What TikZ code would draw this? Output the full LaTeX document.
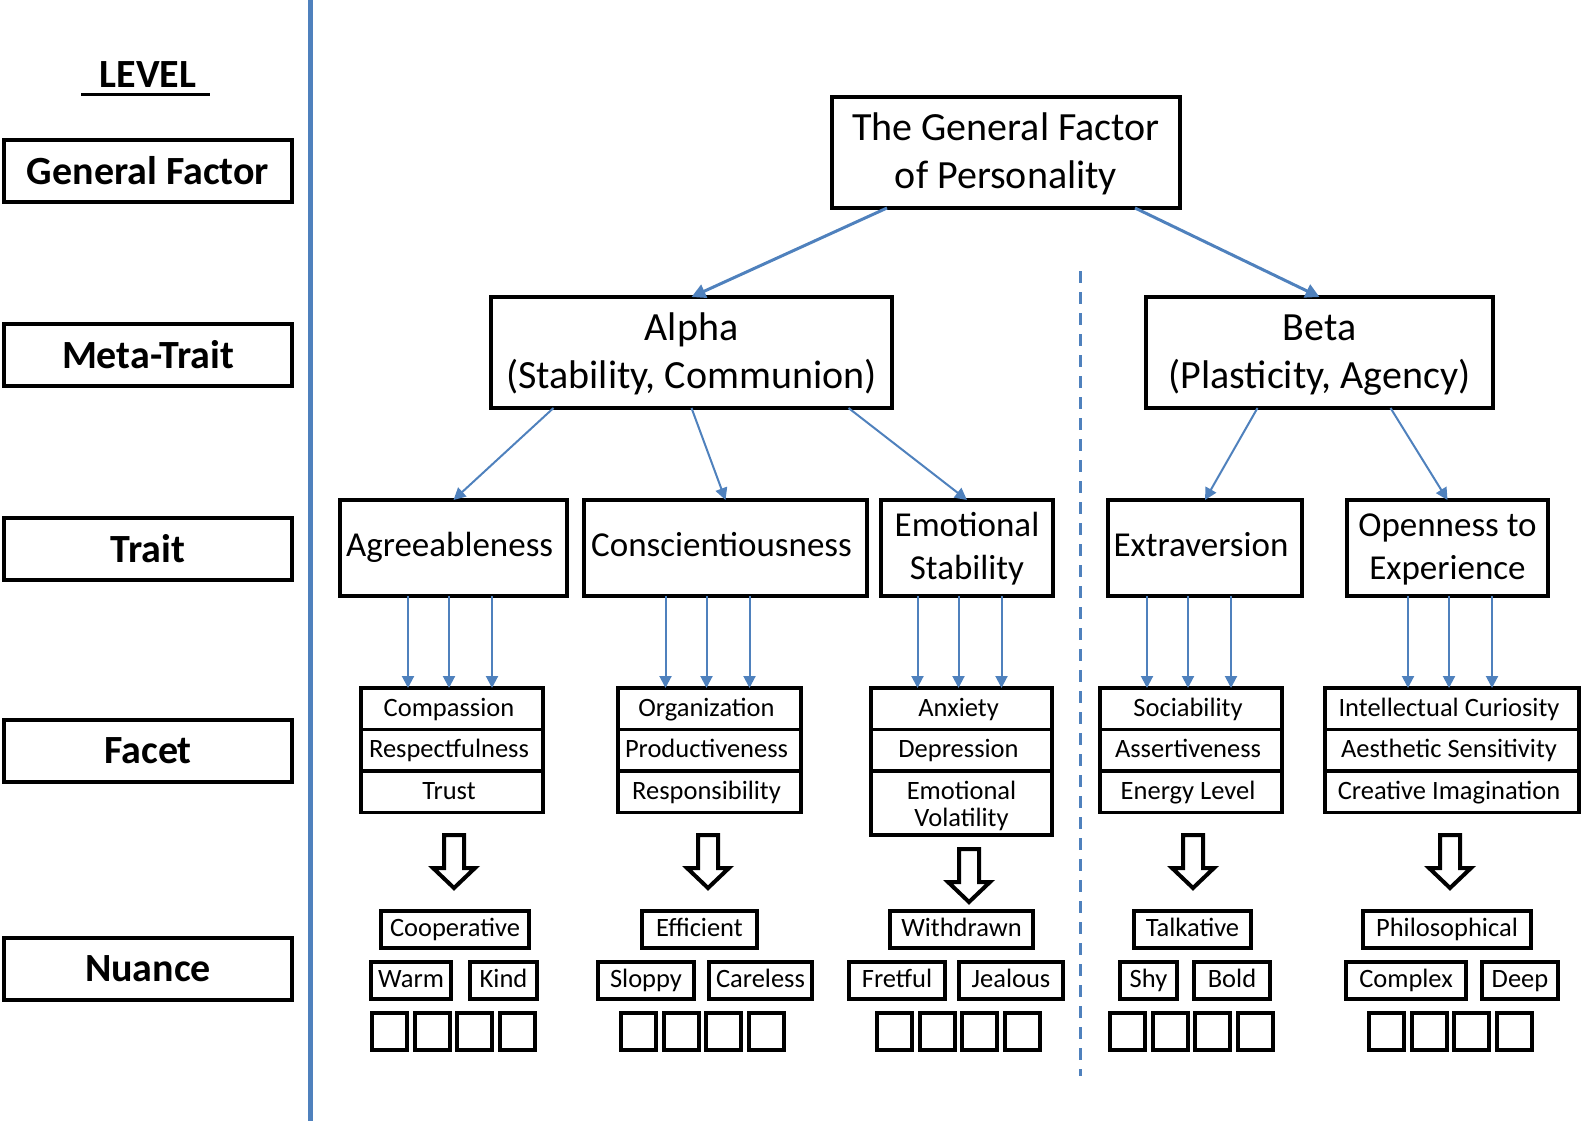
\documentclass[tikz,border=0pt]{standalone}
\usepackage{fontspec}
\setmainfont{Carlito}
\usepackage{tikz}
\usetikzlibrary{arrows.meta,positioning}
\definecolor{lineblue}{RGB}{79,129,189}

\begin{document}
\begin{tikzpicture}[x=1pt,y=-1pt,
    lvlbox/.style={draw,line width=4pt,inner sep=0pt,outer sep=0pt,
      minimum width=288pt,minimum height=62pt,font=\fontsize{40}{48}\selectfont\bfseries},
    bigbox/.style={draw,line width=4pt,inner sep=0pt,outer sep=0pt,align=center,
      minimum height=111pt,text height=81pt,text depth=10pt,font=\fontsize{40}{48}\selectfont},
    traitbox/.style={draw,line width=4pt,inner sep=0pt,outer sep=0pt,align=center,
      minimum height=96pt,text height=26pt,text depth=9pt,font=\fontsize{35}{42.5}\selectfont},
    twoline/.style={text height=71.6pt,text depth=9pt},
    facetcell/.style={draw,line width=3.5pt,inner sep=0pt,outer sep=0pt,align=center,
      minimum height=41.5pt,text height=20.7pt,text depth=5.8pt,font=\fontsize{26.5}{27.5}\selectfont},
    nubox/.style={draw,line width=4pt,inner sep=0pt,outer sep=0pt,
      minimum height=37pt,text height=20.7pt,text depth=5.8pt,font=\fontsize{26.5}{30}\selectfont},
    sqbox/.style={draw,line width=4pt,inner sep=0pt,outer sep=0pt,
      minimum width=35pt,minimum height=37pt},
    toparr/.style={lineblue,line width=3pt,-{Triangle[length=14pt,width=14pt]}},
    thinarr/.style={lineblue,line width=2pt,-{Triangle[length=12pt,width=12pt]}},
    hollowdown/.pic={\draw[line width=4pt,line join=miter]
      (-10,0) -- (10,0) -- (10,33) -- (21,33) -- (0,53) -- (-21,33) -- (-10,33) -- cycle;}
  ]
    \useasboundingbox (0,0) rectangle (1584,1121);

    % level column
    \draw[lineblue,line width=5pt] (310,0) -- (310,1121);
    \node [font=\fontsize{40}{48}\selectfont\bfseries] (level) at (148,75) { LEVEL };
    \draw[line width=3pt] (81,95) -- (210,95);
    \node [lvlbox] (lvGen) at (148,171) { General Factor };
    \node [lvlbox] (lvMeta) at (148,355) { Meta-Trait };
    \node [lvlbox] (lvTrait) at (148,549) { Trait };
    \node [lvlbox] (lvFacet) at (148,751) { Facet };
    \node [lvlbox] (lvNuance) at (148,969) { Nuance };

    \draw[lineblue,line width=3pt,dash pattern=on 12pt off 9pt] (1080,271) -- (1080,1076);

    % general factor and meta-traits
    \node [bigbox,minimum width=348pt] (gfp) at (1006,152.5) { The General Factor\\of Personality };
    \node [bigbox,minimum width=401pt] (alpha) at (691.5,352.5) { Alpha\\(Stability, Communion) };
    \node [bigbox,minimum width=347pt] (beta) at (1319.5,352.5) { Beta\\(Plasticity, Agency) };

    % traits
    \node [traitbox,minimum width=227pt] (agree) at (453.5,548) { Agreeableness };
    \node [traitbox,minimum width=283pt] (consc) at (725.5,548) { Conscientiousness };
    \node [traitbox,twoline,minimum width=172pt] (emot) at (967,548) { Emotional\\Stability };
    \node [traitbox,minimum width=194pt] (extra) at (1205,548) { Extraversion };
    \node [traitbox,twoline,minimum width=201pt] (open) at (1447.5,548) { Openness to\\Experience };

    \draw[toparr] ([xshift=-119pt]gfp.south) -- (alpha.north);
    \draw[toparr] ([xshift=129pt]gfp.south) -- (beta.north);
    \draw[thinarr] ([xshift=-138pt]alpha.south) -- (agree.north);
    \draw[thinarr] (alpha.south) -- (consc.north);
    \draw[thinarr] ([xshift=157pt]alpha.south) -- (emot.north);
    \draw[thinarr] ([xshift=-62pt]beta.south) -- (extra.north);
    \draw[thinarr] ([xshift=71pt]beta.south) -- (open.north);

    % facets
    \node [facetcell,minimum width=182pt] (aF1) at (452,708.75) { Compassion };
    \node [facetcell,minimum width=182pt,below=0pt of aF1] (aF2) { Respectfulness };
    \node [facetcell,minimum width=182pt,below=0pt of aF2] (aF3) { Trust };
    \node [facetcell,minimum width=183pt] (cF1) at (709.5,708.75) { Organization };
    \node [facetcell,minimum width=183pt,below=0pt of cF1] (cF2) { Productiveness };
    \node [facetcell,minimum width=183pt,below=0pt of cF2] (cF3) { Responsibility };
    \node [facetcell,minimum width=181pt] (eF1) at (961.5,708.75) { Anxiety };
    \node [facetcell,minimum width=181pt,below=0pt of eF1] (eF2) { Depression };
    \node [facetcell,minimum width=181pt,minimum height=64pt,text height=53.6pt,below=0pt of eF2] (eF3) { Emotional\\Volatility };
    \node [facetcell,minimum width=182pt] (xF1) at (1191,708.75) { Sociability };
    \node [facetcell,minimum width=182pt,below=0pt of xF1] (xF2) { Assertiveness };
    \node [facetcell,minimum width=182pt,below=0pt of xF2] (xF3) { Energy Level };
    \node [facetcell,minimum width=254pt] (oF1) at (1452,708.75) { Intellectual Curiosity };
    \node [facetcell,minimum width=254pt,below=0pt of oF1] (oF2) { Aesthetic Sensitivity };
    \node [facetcell,minimum width=254pt,below=0pt of oF2] (oF3) { Creative Imagination };

    \foreach \t/\f in {agree/aF1,consc/cF1,emot/eF1,extra/xF1,open/oF1}
      \foreach \d in {-44,-3,40}
        \draw[thinarr] ([xshift=\d pt]\f.north |- \t.south) -- ([xshift=\d pt]\f.north);

    % facet -> nuance
    \pic at (454,835) {hollowdown};
    \pic at (708,835) {hollowdown};
    \pic at (969,849) {hollowdown};
    \pic at (1193,835) {hollowdown};
    \pic at (1450,835) {hollowdown};

    % nuances
    \node [nubox,minimum width=148pt] (aN1) at (455,929) { Cooperative };
    \node [nubox,minimum width=80pt] (aN2) at (411,980.5) { Warm };
    \node [nubox,minimum width=67pt] (aN3) at (503.5,980.5) { Kind };
    \node [nubox,minimum width=115pt] (cN1) at (699.5,929) { Efficient };
    \node [nubox,minimum width=96pt] (cN2) at (646,980.5) { Sloppy };
    \node [nubox,minimum width=103pt] (cN3) at (760.5,980.5) { Careless };
    \node [nubox,minimum width=143pt] (eN1) at (961.5,929) { Withdrawn };
    \node [nubox,minimum width=96pt] (eN2) at (897,980.5) { Fretful };
    \node [nubox,minimum width=104pt] (eN3) at (1011,980.5) { Jealous };
    \node [nubox,minimum width=117pt] (xN1) at (1192.5,929) { Talkative };
    \node [nubox,minimum width=57pt] (xN2) at (1148.5,980.5) { Shy };
    \node [nubox,minimum width=76pt] (xN3) at (1232,980.5) { Bold };
    \node [nubox,minimum width=168pt] (oN1) at (1447,929) { Philosophical };
    \node [nubox,minimum width=120pt] (oN2) at (1406,980.5) { Complex };
    \node [nubox,minimum width=76pt] (oN3) at (1520,980.5) { Deep };

    \foreach \n/\x in {a/370,c/619,e/875,x/1108,o/1367}
      \foreach \i in {0,...,3}
        \node [sqbox] (\n S\i) at (\x+19.5+\i*42.5,1031.5) {};
  \end{tikzpicture}
\end{document}
